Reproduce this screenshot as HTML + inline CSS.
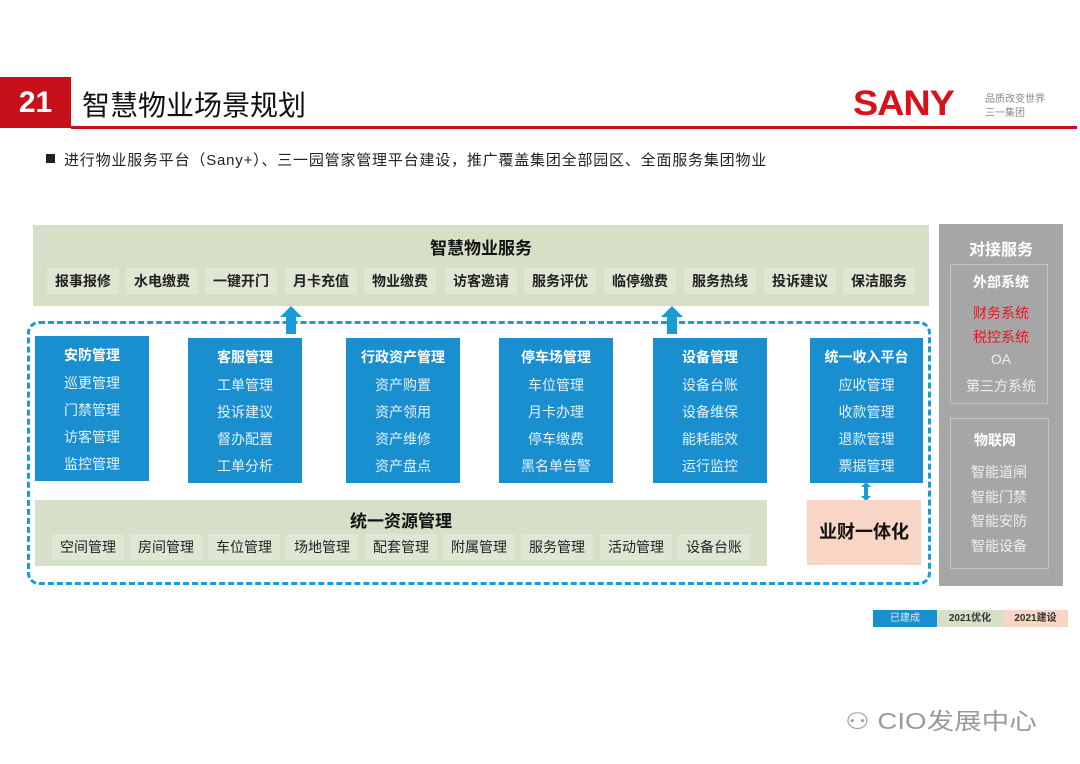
<!DOCTYPE html>
<html><head><meta charset="utf-8"><style>
*{margin:0;padding:0;box-sizing:border-box}
body{width:1080px;height:764px;background:#fff;position:relative;overflow:hidden;font-family:"Liberation Sans","Noto Sans CJK SC",sans-serif}
.a{position:absolute}
.c{position:absolute;text-align:center;white-space:nowrap}
.blue{position:absolute;background:#1a8fd0;color:#fff;text-align:center}
.blue b{display:block;font-size:14px;margin-top:9px;margin-bottom:5px}
.blue div{font-size:14px;line-height:27px;color:#e6f2fa}
.it{position:absolute;font-size:14px;font-weight:bold;color:#222;text-align:center;width:72px;height:26px;line-height:26px;background:#dfe6d4}
.rt{position:absolute;font-size:14px;color:#222;text-align:center;width:72px;height:26px;line-height:26px;background:#dfe6d4}
.g{color:#eee;font-size:14px;text-align:center;position:absolute;width:124px;left:939px}
</style></head><body>
<div class="a" style="left:0;top:77px;width:71px;height:51px;background:#c8101a;color:#fff;font-size:30px;font-weight:bold;text-align:center;line-height:51px">21</div>
<div class="a" style="left:71px;top:126px;width:1006px;height:3px;background:#c8101a"></div>
<div class="a" style="left:82px;top:84px;font-size:28px;color:#111">智慧物业场景规划</div>
<div class="a" style="left:853px;top:84px;font-size:35px;font-weight:bold;color:#d8111b;letter-spacing:-1px;transform:scaleX(1.08);transform-origin:left">SANY</div>
<div class="a" style="left:985px;top:93px;font-size:10px;color:#888;line-height:14px">品质改变世界<br>三一集团</div>
<div class="a" style="left:46px;top:154px;width:9px;height:9px;background:#222"></div>
<div class="a" style="left:64px;top:149px;font-size:15px;letter-spacing:0.8px;color:#222;white-space:nowrap">进行物业服务平台（Sany+）、三一园管家管理平台建设，推广覆盖集团全部园区、全面服务集团物业</div>

<div class="a" style="left:33px;top:225px;width:896px;height:81px;background:#d6e0c8"></div>
<div class="c" style="left:33px;width:896px;top:234px;font-size:17px;font-weight:bold;color:#111">智慧物业服务</div>
<div class="it" style="left:47px;top:268px">报事报修</div>
<div class="it" style="left:126px;top:268px">水电缴费</div>
<div class="it" style="left:205px;top:268px">一键开门</div>
<div class="it" style="left:285px;top:268px">月卡充值</div>
<div class="it" style="left:364px;top:268px">物业缴费</div>
<div class="it" style="left:445px;top:268px">访客邀请</div>
<div class="it" style="left:524px;top:268px">服务评优</div>
<div class="it" style="left:604px;top:268px">临停缴费</div>
<div class="it" style="left:684px;top:268px">服务热线</div>
<div class="it" style="left:764px;top:268px">投诉建议</div>
<div class="it" style="left:843px;top:268px">保洁服务</div>

<div class="a" style="left:27px;top:321px;width:904px;height:264px;border:3px dashed #1a9ad6;border-radius:12px"></div>
<svg class="a" style="left:279px;top:306px" width="24" height="28"><polygon points="12,0 23,11 17,11 17,28 7,28 7,11 1,11" fill="#1a9ad6"/></svg>
<svg class="a" style="left:660px;top:306px" width="24" height="28"><polygon points="12,0 23,11 17,11 17,28 7,28 7,11 1,11" fill="#1a9ad6"/></svg>

<div class="blue" style="left:35px;top:336px;width:114px;height:145px"><b>安防管理</b><div>巡更管理</div><div>门禁管理</div><div>访客管理</div><div>监控管理</div></div>
<div class="blue" style="left:188px;top:338px;width:114px;height:145px"><b>客服管理</b><div>工单管理</div><div>投诉建议</div><div>督办配置</div><div>工单分析</div></div>
<div class="blue" style="left:346px;top:338px;width:114px;height:145px"><b>行政资产管理</b><div>资产购置</div><div>资产领用</div><div>资产维修</div><div>资产盘点</div></div>
<div class="blue" style="left:499px;top:338px;width:114px;height:145px"><b>停车场管理</b><div>车位管理</div><div>月卡办理</div><div>停车缴费</div><div>黑名单告警</div></div>
<div class="blue" style="left:653px;top:338px;width:114px;height:145px"><b>设备管理</b><div>设备台账</div><div>设备维保</div><div>能耗能效</div><div>运行监控</div></div>
<div class="blue" style="left:810px;top:338px;width:113px;height:145px"><b>统一收入平台</b><div>应收管理</div><div>收款管理</div><div>退款管理</div><div>票据管理</div></div>

<div class="a" style="left:35px;top:500px;width:732px;height:66px;background:#d6e0c8"></div>
<div class="c" style="left:35px;width:732px;top:507px;font-size:17px;font-weight:bold;color:#111">统一资源管理</div>
<div class="rt" style="left:52px;top:534px">空间管理</div>
<div class="rt" style="left:130px;top:534px">房间管理</div>
<div class="rt" style="left:208px;top:534px">车位管理</div>
<div class="rt" style="left:286px;top:534px">场地管理</div>
<div class="rt" style="left:365px;top:534px">配套管理</div>
<div class="rt" style="left:443px;top:534px">附属管理</div>
<div class="rt" style="left:521px;top:534px">服务管理</div>
<div class="rt" style="left:600px;top:534px">活动管理</div>
<div class="rt" style="left:678px;top:534px">设备台账</div>

<svg class="a" style="left:860px;top:482px" width="12" height="19"><polygon points="6,0 11,5 8,5 8,14 11,14 6,19 1,14 4,14 4,5 1,5" fill="#1a9ad6"/></svg>
<div class="a" style="left:807px;top:500px;width:114px;height:65px;background:#f8d5c4;text-align:center;line-height:65px;font-size:18px;font-weight:bold;color:#111">业财一体化</div>

<div class="a" style="left:939px;top:224px;width:124px;height:362px;background:#a6a6a6"></div>
<div class="g" style="top:236px;font-size:16px;font-weight:bold;color:#fff">对接服务</div>
<div class="a" style="left:950px;top:264px;width:98px;height:140px;border:1px solid #c4c4c4"></div>
<div class="g" style="top:272px;font-weight:bold;color:#fff">外部系统</div>
<div class="g" style="top:303px;color:#e8141e">财务系统</div>
<div class="g" style="top:327px;color:#e8141e">税控系统</div>
<div class="g" style="top:351px">OA</div>
<div class="g" style="top:376px">第三方系统</div>
<div class="a" style="left:950px;top:418px;width:99px;height:151px;border:1px solid #c4c4c4"></div>
<div class="g" style="top:430px;font-weight:bold;color:#fff;width:112px">物联网</div>
<div class="g" style="top:462px;width:120px">智能道闸</div>
<div class="g" style="top:487px;width:120px">智能门禁</div>
<div class="g" style="top:511px;width:120px">智能安防</div>
<div class="g" style="top:536px;width:120px">智能设备</div>

<div class="a" style="left:873px;top:610px;width:64px;height:17px;background:#1a8fd0;color:#dceefa;font-size:10px;text-align:center;line-height:17px">已建成</div>
<div class="a" style="left:937px;top:610px;width:66px;height:17px;background:#d6e0c8;color:#333;font-size:10px;text-align:center;line-height:17px;font-weight:bold">2021优化</div>
<div class="a" style="left:1003px;top:610px;width:65px;height:17px;background:#f8d5c4;color:#333;font-size:10px;text-align:center;line-height:17px;font-weight:bold">2021建设</div>

<div class="a" style="left:845px;top:702px;font-size:23px;color:#9a9a9a;white-space:nowrap;transform:scaleX(1.2);transform-origin:left">⚇ CIO发展中心</div>
</body></html>
